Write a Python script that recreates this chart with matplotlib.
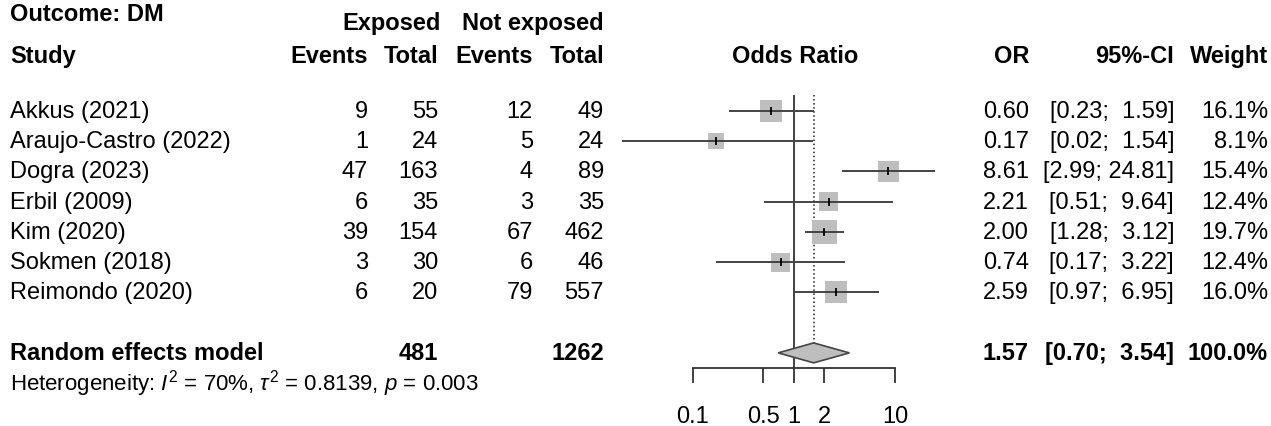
import numpy as np
import matplotlib.pyplot as plt
from matplotlib import transforms
from matplotlib.patches import Polygon

plt.rcParams['font.family'] = ['Liberation Sans', 'DejaVu Sans']
plt.rcParams['mathtext.fontset'] = 'custom'
plt.rcParams['mathtext.rm'] = 'Liberation Sans'
plt.rcParams['mathtext.it'] = 'Liberation Sans:italic'
plt.rcParams['mathtext.bf'] = 'Liberation Sans:bold'

# study level data
studies = ['Akkus (2021)', 'Araujo-Castro (2022)', 'Dogra (2023)', 'Erbil (2009)',
           'Kim (2020)', 'Sokmen (2018)', 'Reimondo (2020)']
ev_exp = [9, 1, 47, 6, 39, 3, 6]
n_exp = [55, 24, 163, 35, 154, 30, 20]
ev_ctl = [12, 5, 4, 3, 67, 6, 79]
n_ctl = [49, 24, 89, 35, 462, 46, 557]
odds = [0.60, 0.17, 8.61, 2.21, 2.00, 0.74, 2.59]
ci_lo = [0.23, 0.02, 2.99, 0.51, 1.28, 0.17, 0.97]
ci_hi = [1.59, 1.54, 24.81, 9.64, 3.12, 3.22, 6.95]
weights = [16.1, 8.1, 15.4, 12.4, 19.7, 12.4, 16.0]

# random effects summary
re_or, re_lo, re_hi = 1.57, 0.70, 3.54
het_text = r'Heterogeneity: $I^2$ = 70%, $\tau^2$ = 0.8139, $p$ = 0.003'
xticks = [0.1, 0.5, 1, 2, 10]
xticklabels = ['0.1', '0.5', '1', '2', '10']

W, H = 1271, 427
FS = 17
fig = plt.figure(figsize=(W / 100, H / 100), dpi=100)

# background axes in pixel units, used for placing the table columns
tab = fig.add_axes([0, 0, 1, 1])
tab.set_xlim(0, W)
tab.set_ylim(H, 0)
tab.axis('off')

# forest panel, log scale from 0.1 to 10
x0, x1, y_top, y_bot = 692.7, 895.0, 96, 369
ax = fig.add_axes([x0 / W, 1 - y_bot / H, (x1 - x0) / W, (y_bot - y_top) / H])
ax.set_xscale('log')
ax.set_xlim(0.1, 10)
ax.set_ylim(9.5, 0.47)
ax.patch.set_visible(False)
for s in ['top', 'left', 'right']:
    ax.spines[s].set_visible(False)
ax.spines['bottom'].set_linewidth(1.3)
ax.spines['bottom'].set_color('#333333')
ax.set_yticks([])
ax.set_xticks(xticks)
ax.set_xticklabels(xticklabels)
ax.minorticks_off()
ax.tick_params(axis='x', direction='out', length=10.8, width=1.3, color='#333333',
               labelsize=FS, pad=16)

rows = np.arange(1, len(studies) + 1)
sum_row = len(studies) + 2

# reference line and summary estimate line
ax.axvline(1, color='#222222', lw=1.2, zorder=1)
ax.plot([re_or, re_or], [0.47, sum_row - 0.33], ls=':', color='#222222', lw=1.1, zorder=1)

# weighted squares, confidence intervals and point marks
side_pt = 5.5 * np.sqrt(np.array(weights)) * 0.72
ax.scatter(odds, rows, marker='s', s=side_pt ** 2, color='#bebebe', lw=0, zorder=2, clip_on=False)
ax.hlines(rows, ci_lo, ci_hi, color='#444444', lw=1.4, zorder=3, clip_on=False)
ax.scatter(odds, rows, marker='|', s=30, color='black', lw=1.3, zorder=4, clip_on=False)

diamond = Polygon([(re_lo, sum_row), (re_or, sum_row - 0.33), (re_hi, sum_row), (re_or, sum_row + 0.33)],
                  closed=True, facecolor='#bebebe', edgecolor='#444444', lw=1.2, zorder=3, clip_on=False)
ax.add_patch(diamond)

# text columns: x in pixels, y in panel rows
tr = transforms.blended_transform_factory(tab.transData, ax.transData)


def put(x, y, s, ha='right', bold=False, size=FS):
    tab.text(x, y, s, transform=tr, ha=ha, va='center', fontsize=size,
             fontweight='bold' if bold else 'normal')


col_ev_exp, col_n_exp, col_ev_ctl, col_n_ctl = 368, 438, 533, 604
col_or, col_ci, col_w = 1029, 1174, 1268

put(10, -2.24, 'Outcome: DM', ha='left', bold=True)
put(441, -1.94, 'Exposed', bold=True)
put(col_n_ctl, -1.94, 'Not exposed', bold=True)
hy = -0.82
put(10, hy, 'Study', ha='left', bold=True)
put(col_ev_exp, hy, 'Events', bold=True)
put(col_n_exp, hy, 'Total', bold=True)
put(col_ev_ctl, hy, 'Events', bold=True)
put(col_n_ctl, hy, 'Total', bold=True)
put((x0 + x1) / 2 + 1, hy, 'Odds Ratio', ha='center', bold=True)
put(col_or, hy, 'OR', bold=True)
put(col_ci, hy, '95%-CI', bold=True)
put(col_w, hy, 'Weight', bold=True)

for r, name, a, b, c, d, o, lo, hi, w in zip(rows, studies, ev_exp, n_exp, ev_ctl, n_ctl,
                                             odds, ci_lo, ci_hi, weights):
    put(10, r, name, ha='left')
    put(col_ev_exp, r, str(a))
    put(col_n_exp, r, str(b))
    put(col_ev_ctl, r, str(c))
    put(col_n_ctl, r, str(d))
    put(col_or, r, f'{o:.2f}')
    put(col_ci, r, f'[{lo:.2f}; {hi:5.2f}]')
    put(col_w, r, f'{w:.1f}%')

put(10, sum_row, 'Random effects model', ha='left', bold=True)
put(col_n_exp, sum_row, str(sum(n_exp)), bold=True)
put(col_n_ctl, sum_row, str(sum(n_ctl)), bold=True)
put(col_or, sum_row, f'{re_or:.2f}', bold=True)
put(col_ci, sum_row, f'[{re_lo:.2f}; {re_hi:5.2f}]', bold=True)
put(col_w, sum_row, '100.0%', bold=True)
put(10, sum_row + 0.97, het_text, ha='left', size=FS - 1)

fig.savefig('out.png', dpi=100)
